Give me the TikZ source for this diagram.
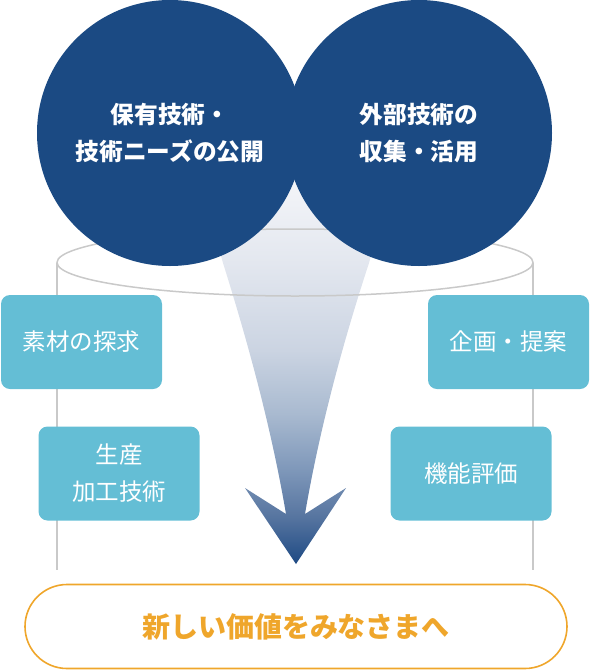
\documentclass[tikz,border=0pt]{standalone}
\usepackage{fontspec}
\setmainfont{Noto Sans CJK JP}

\definecolor{navy}{HTML}{1B4A83}
\definecolor{sky}{HTML}{64BED5}
\definecolor{amber}{HTML}{EFA62B}
\definecolor{rimgray}{HTML}{C9C9C9}
\definecolor{ftop}{HTML}{F6F7FA}
\definecolor{fa}{HTML}{E3E7EF}
\definecolor{fb}{HTML}{CBD4E2}
\definecolor{fc}{HTML}{A9BAD0}
\definecolor{fd}{HTML}{7F98BA}
\definecolor{fe}{HTML}{5775A0}
\definecolor{fdeep}{HTML}{1E4A84}

\pgfdeclareverticalshading{funnelshade}{100bp}{color(0bp)=(fdeep); color(25bp)=(fdeep);
  color(31bp)=(fe); color(37bp)=(fd); color(44bp)=(fc); color(52bp)=(fb);
  color(63bp)=(fa); color(75bp)=(ftop); color(100bp)=(ftop)}

\begin{document}
\begin{tikzpicture}[x = 1pt, y = -1pt,
    seed/.style = {circle, fill = navy, minimum size = 266pt, inner sep = 0pt, text = white,
        align = center, font = \fontsize{23.7}{37}\selectfont\bfseries},
    skill/.style = {rounded corners = 9pt, fill = sky, text = white, minimum width = 161pt,
        minimum height = 94pt, inner sep = 0pt, align = center, font = \fontsize{23.5}{37}\selectfont},
    rim/.style = {draw = rimgray, line width = 1.5pt}
]
    \useasboundingbox (0,0) rectangle (590,670);

    % funnel arrow
    \shade[shading = funnelshade]
        (296,564) -- (346,488) -- (305,514) .. controls (321,420) and (347,330) .. (369,263)
        -- (395,168) -- (197,168) -- (223,263) .. controls (244,330) and (270,420) .. (286,514)
        -- (245,488) -- cycle;

    % cylinder
    \draw[rim] (295,262.5) ellipse [x radius = 238, y radius = 33.5];
    \draw[rim] (57,262.5) -- (57,570) (533,262.5) -- (533,570);

    \node[seed] (own) at (170,133) {保有技術・\\技術ニーズの公開};
    \node[seed] (ext) at (419,133) {外部技術の\\収集・活用};

    \node[skill] (material) at (81.5,342)  {素材の探求};
    \node[skill] (plan)     at (508.5,342) {企画・提案};
    \node[skill] (process)  at (119,473.5) {生産\\加工技術};
    \node[skill] (eval)     at (471,473.5) {機能評価};

    \node[draw = amber, line width = 1.6pt, rounded corners = 42pt, minimum width = 542pt,
        minimum height = 84pt, text = amber, font = \fontsize{28}{32}\selectfont\bfseries]
        (value) at (296,626.5) {新しい価値をみなさまへ};
\end{tikzpicture}
\end{document}
